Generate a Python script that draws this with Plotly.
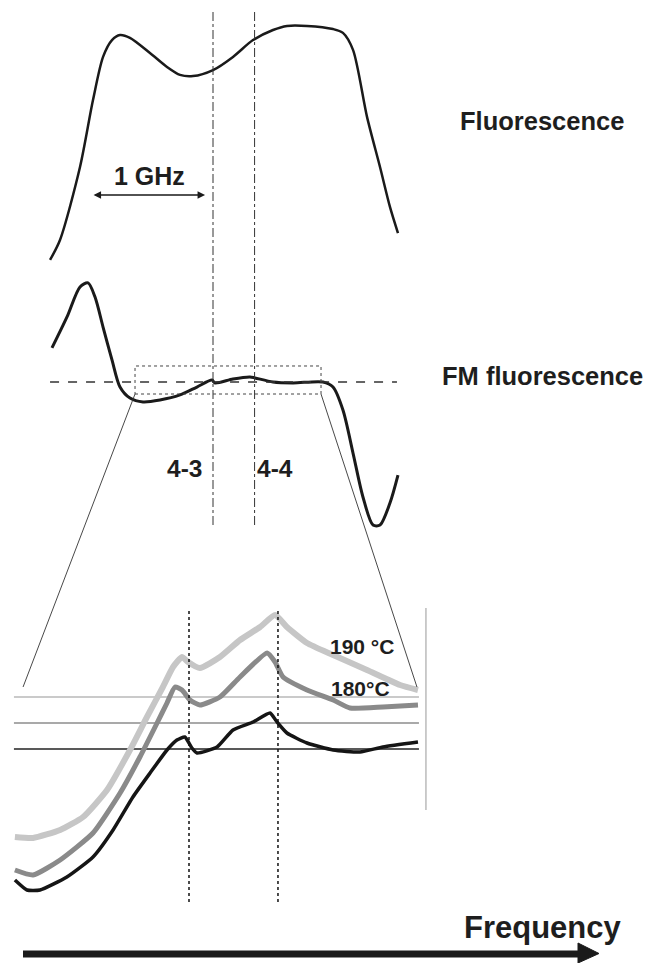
import plotly.graph_objects as go

# ---------------- data (frequency in GHz relative to the 4-3 line) ----------------
# Fluorescence (top), arbitrary units
fluo_f = [-1.442, -1.354, -1.177, -1.062, -0.973, -0.894, -0.823, -0.735, -0.558, -0.407,
          -0.292, -0.177, 0.0, 0.177, 0.354, 0.531, 0.655, 0.832, 1.062, 1.150,
          1.239, 1.363, 1.478, 1.566, 1.637]
fluo_v = [4.2, 12.5, 42.9, 70.8, 88.8, 95.8, 97.9, 96.7, 90.4, 84.6,
          81.3, 80.8, 83.3, 88.8, 95.8, 100.0, 101.7, 101.7, 100.4, 98.8,
          91.7, 63.8, 42.9, 26.3, 15.4]

# FM fluorescence (middle), arbitrary units
fm_f = [-1.425, -1.292, -1.177, -1.106, -1.044, -0.973, -0.894, -0.823, -0.735, -0.619,
        -0.469, -0.292, -0.142, -0.009, 0.018, 0.177, 0.327, 0.372, 0.531, 0.708,
        0.973, 1.062, 1.150, 1.239, 1.327, 1.416, 1.478, 1.566, 1.637]
fm_v = [14.2, 27.1, 39.6, 41.3, 35.4, 22.9, 9.2, -2.1, -6.7, -8.3,
        -7.5, -5.4, -2.1, 0.8, -0.4, 1.25, 2.1, 1.7, 0.0, -0.4,
        0.0, -2.1, -11.7, -29.6, -47.9, -59.6, -59.6, -50.4, -38.75]

# Zoomed FM spectra (bottom)
t190_f = [-0.720, -0.645, -0.533, -0.438, -0.339, -0.244, -0.174, -0.108, -0.066, -0.029,
          -0.004, 0.045, 0.128, 0.211, 0.294, 0.356, 0.405, 0.488, 0.596, 0.736, 0.873, 0.947]
t190_v = [-44, -44.5, -40.5, -34, -20.5, -0.5, 16, 31, 41, 46,
          43.5, 40.5, 46, 54.5, 61, 67, 61, 53, 47, 39.5, 32, 29.5]

t180_f = [-0.720, -0.645, -0.533, -0.397, -0.285, -0.203, -0.132, -0.091, -0.058, -0.029,
          0.004, 0.045, 0.128, 0.211, 0.323, 0.356, 0.389, 0.488, 0.596, 0.666, 0.802, 0.947]
t180_v = [-60.5, -63, -55.5, -42, -22, -4, 13, 23, 31, 29.5,
          24.5, 22, 26, 36, 48, 43.5, 36, 29.5, 24.5, 20.5, 21, 22]

tlow_f = [-0.720, -0.670, -0.616, -0.505, -0.397, -0.314, -0.232, -0.161, -0.091, -0.050,
          -0.017, 0.012, 0.033, 0.116, 0.182, 0.265, 0.335, 0.364, 0.405, 0.488,
          0.596, 0.707, 0.802, 0.947]
tlow_v = [-65.5, -70.5, -70.5, -64, -54, -40.5, -24, -12, -0.5, 4.5,
          6, 0.5, -2, 1, 9.5, 13.5, 18, 13.5, 8, 3,
          -0.5, -1.5, 1, 3.5]

baselines = [0, 13, 26]            # offsets of the three zoomed traces
transitions = [0.0, 0.368]         # 4-3 and 4-4 lines (GHz)
transition_labels = ["4-3", "4-4"]
temp_labels = ["190 °C", "180°C"]

W, H = 657, 963
FONT = "Liberation Sans, Arial, sans-serif"

fig = go.Figure()

fig.add_trace(go.Scatter(x=fluo_f, y=fluo_v, mode="lines", xaxis="x", yaxis="y",
                         line=dict(color="#1a1a1a", width=2.5, shape="spline", smoothing=0.8)))
fig.add_trace(go.Scatter(x=fm_f, y=fm_v, mode="lines", xaxis="x", yaxis="y2",
                         line=dict(color="#1a1a1a", width=3, shape="spline", smoothing=0.8)))

zoom_x0, zoom_x1 = -0.724, 0.951
base_cols = ["#222222", "#8c8c8c", "#b8b8b8"]
for b, c in zip(baselines, base_cols):
    fig.add_trace(go.Scatter(x=[zoom_x0, zoom_x1], y=[b, b], mode="lines", xaxis="x2", yaxis="y3",
                             line=dict(color=c, width=1.5)))

fig.add_trace(go.Scatter(x=t190_f, y=t190_v, mode="lines", xaxis="x2", yaxis="y3",
                         line=dict(color="#c6c6c6", width=6, shape="spline", smoothing=0.5)))
fig.add_trace(go.Scatter(x=t180_f, y=t180_v, mode="lines", xaxis="x2", yaxis="y3",
                         line=dict(color="#8a8a8a", width=5, shape="spline", smoothing=0.5)))
fig.add_trace(go.Scatter(x=tlow_f, y=tlow_v, mode="lines", xaxis="x2", yaxis="y3",
                         line=dict(color="#151515", width=3.5, shape="spline", smoothing=0.5)))

shapes = []
# dash-dot transition lines through top panels
for t in transitions:
    shapes.append(dict(type="line", xref="x", yref="paper", x0=t, x1=t,
                       y0=1 - 525 / H, y1=1 - 12 / H,
                       line=dict(color="#333333", width=1, dash="dashdot")))
    shapes.append(dict(type="line", xref="x2", yref="paper", x0=t, x1=t,
                       y0=1 - 902 / H, y1=1 - 608 / H,
                       line=dict(color="#111111", width=1.5, dash="dot")))
# zero line of FM
shapes.append(dict(type="line", xref="x", yref="y2", x0=-1.442, x1=1.628, y0=0, y1=0,
                   line=dict(color="#333333", width=1.3, dash="dash")))
# dotted zoom rectangle
rect_x0, rect_x1 = -0.690, 0.956
shapes.append(dict(type="rect", xref="x", yref="y2", x0=rect_x0, x1=rect_x1, y0=-5, y1=6.67,
                   line=dict(color="#444444", width=1, dash="dot")))
# connector lines to zoomed panel
shapes.append(dict(type="line", xref="x", yref="paper", x0=rect_x0, x1=-1.681,
                   y0=1 - 394 / H, y1=1 - 687 / H, line=dict(color="#333333", width=0.9)))
shapes.append(dict(type="line", xref="x", yref="paper", x0=rect_x1, x1=1.805,
                   y0=1 - 394 / H, y1=1 - 687 / H, line=dict(color="#333333", width=0.9)))
# right frame line of zoomed panel
shapes.append(dict(type="line", xref="x2", yref="y3", x0=0.980, x1=0.980, y0=-30.5, y1=70.5,
                   line=dict(color="#999999", width=1)))
# frequency arrow
shapes.append(dict(type="line", xref="paper", yref="paper", x0=23 / W, x1=582 / W,
                   y0=1 - 954 / H, y1=1 - 954 / H, line=dict(color="#1a1a1a", width=7)))
shapes.append(dict(type="path", xref="paper", yref="paper",
                   path=f"M {578/W} {1-943/H} L {599/W} {1-953.5/H} L {578/W} {1-963/H} Z",
                   fillcolor="#1a1a1a", line=dict(color="#1a1a1a", width=1)))

annotations = []
bold = dict(family=FONT, color="#1e1e1e", weight="bold")
anch = dict(xanchor="center", yanchor="middle", showarrow=False)
annotations.append(dict(text="Fluorescence", xref="paper", yref="paper", x=542 / W, y=1 - 121 / H,
                        font=dict(size=25.5, **bold), **anch))
annotations.append(dict(text="FM fluorescence", xref="paper", yref="paper", x=542 / W, y=1 - 376 / H,
                        font=dict(size=25.5, **bold), **anch))
annotations.append(dict(text="Frequency", xref="paper", yref="paper", x=543 / W, y=1 - 927 / H,
                        font=dict(size=31, **bold), **anch))
for t, lab, dx in zip(transitions, transition_labels, [-0.248, 0.181]):
    annotations.append(dict(text=lab, xref="x", yref="paper", x=t + dx, y=1 - 468 / H,
                            font=dict(size=24.5, **bold), **anch))
annotations.append(dict(text="1 GHz", xref="x", yref="y", x=-0.566, y=39.2,
                        font=dict(size=25, **bold), **anch))
annotations.append(dict(text="", xref="x", yref="y", x=-0.07, y=31.25, ax=-1.07, ay=31.25,
                        axref="x", ayref="y", showarrow=True, arrowhead=2, arrowside="end+start",
                        arrowsize=1, arrowwidth=1.5, arrowcolor="#1a1a1a"))
for lab, xx, yy in zip(temp_labels, [0.7155, 0.711], [51.5, 30.5]):
    annotations.append(dict(text=lab, xref="x2", yref="y3", x=xx, y=yy,
                            font=dict(size=21, **bold), **anch))

ax_common = dict(visible=False, showgrid=False, zeroline=False, fixedrange=True)
fig.update_layout(
    width=W, height=H, margin=dict(l=0, r=0, t=0, b=0),
    paper_bgcolor="white", plot_bgcolor="rgba(0,0,0,0)", showlegend=False,
    xaxis=dict(domain=[0, 1], range=[-213 / 113, 444 / 113], anchor="y", **ax_common),
    xaxis2=dict(domain=[0, 1], range=[-189 / 241.8, 468 / 241.8], anchor="y3", **ax_common),
    yaxis=dict(domain=[1 - 280 / H, 1], range=[-4.17, 112.5], anchor="x", **ax_common),
    yaxis2=dict(domain=[1 - 540 / H, 1 - 280 / H], range=[-65.83, 42.5], anchor="x", **ax_common),
    yaxis3=dict(domain=[1 - 910 / H, 1 - 590 / H], range=[-80.5, 79.5], anchor="x2", **ax_common),
    shapes=shapes, annotations=annotations,
)

fig.write_html("out.html", config={"displayModeBar": False},
               post_script="document.body.style.margin='0';document.body.style.padding='0';"
                           "document.body.style.overflow='hidden';")
